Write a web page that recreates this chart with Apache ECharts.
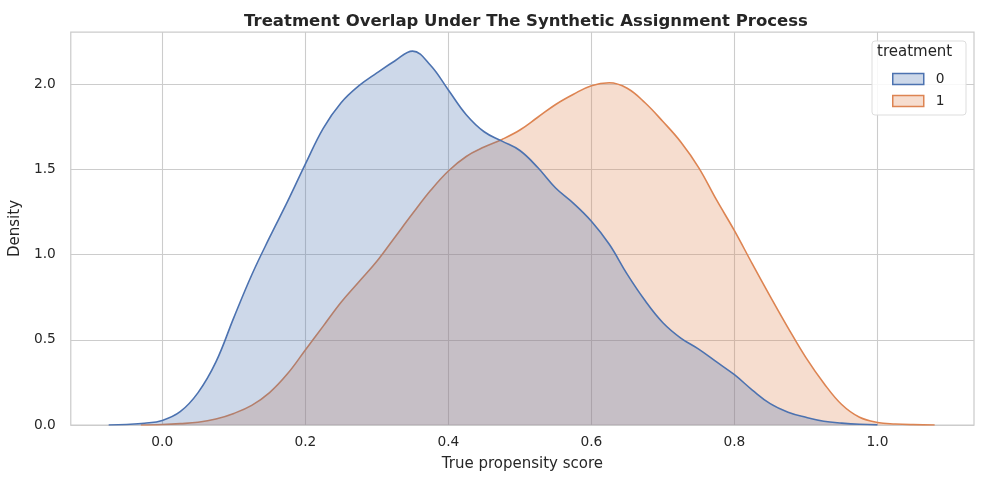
<!DOCTYPE html>
<html>
<head>
<meta charset="utf-8">
<script src="https://cdn.jsdelivr.net/npm/echarts@6/dist/echarts.min.js"></script>
<style>
  html, body { margin: 0; padding: 0; background: #fff; }
  #chart { width: 984px; height: 484px; }
</style>
</head>
<body>
<div id="chart"></div>
<script>
// KDE curves (x = true propensity score, y = density)
const score0 = [-0.075, -0.05, -0.025, 0.0, 0.025, 0.05, 0.075, 0.1, 0.125, 0.15, 0.175, 0.2, 0.225, 0.25, 0.275, 0.3, 0.325, 0.35, 0.375, 0.4, 0.425, 0.45, 0.475, 0.5, 0.525, 0.55, 0.575, 0.6, 0.625, 0.65, 0.675, 0.7, 0.725, 0.75, 0.775, 0.8, 0.825, 0.85, 0.875, 0.9, 0.925, 0.95, 0.975, 1.0];
const density0 = [0, 0.003, 0.01, 0.027, 0.078, 0.19, 0.37, 0.63, 0.88, 1.1, 1.31, 1.53, 1.74, 1.89, 1.99, 2.065, 2.135, 2.193, 2.11, 1.965, 1.82, 1.72, 1.665, 1.61, 1.51, 1.39, 1.3, 1.195, 1.06, 0.885, 0.73, 0.6, 0.51, 0.445, 0.37, 0.295, 0.205, 0.125, 0.075, 0.045, 0.022, 0.011, 0.004, 0.001];

const score1 = [-0.03, 0.0, 0.025, 0.05, 0.075, 0.1, 0.125, 0.15, 0.175, 0.2, 0.225, 0.25, 0.275, 0.3, 0.325, 0.35, 0.375, 0.4, 0.425, 0.45, 0.475, 0.5, 0.525, 0.55, 0.575, 0.6, 0.625, 0.65, 0.675, 0.7, 0.725, 0.75, 0.775, 0.8, 0.825, 0.85, 0.875, 0.9, 0.925, 0.95, 0.975, 1.0, 1.025, 1.05, 1.08];
const density1 = [0, 0.003, 0.008, 0.016, 0.035, 0.068, 0.115, 0.19, 0.3, 0.44, 0.58, 0.72, 0.84, 0.96, 1.1, 1.24, 1.375, 1.49, 1.575, 1.63, 1.675, 1.73, 1.805, 1.88, 1.94, 1.99, 2.007, 1.975, 1.89, 1.78, 1.66, 1.51, 1.32, 1.14, 0.945, 0.755, 0.57, 0.395, 0.245, 0.12, 0.045, 0.015, 0.006, 0.002, 0];

const xTicks = [0.0, 0.2, 0.4, 0.6, 0.8, 1.0];
const yTicks = [0.0, 0.5, 1.0, 1.5, 2.0];

const font = 'DejaVu Sans';
const ink = '#262626';
const gridColor = '#cccccc';
const blue = '#4c72b0';
const orange = '#dd8452';
const fillAlpha = 0.28;

function pairs(xs, ys) {
  return xs.map((x, i) => [x, ys[i]]);
}

const chart = echarts.init(document.getElementById('chart'));
chart.setOption({
  animation: false,
  backgroundColor: '#ffffff',
  textStyle: { fontFamily: font, color: ink },
  title: {
    text: 'Treatment Overlap Under The Synthetic Assignment Process',
    left: 521, top: 8, textAlign: 'center',
    textStyle: { fontFamily: font, fontSize: 16.5, fontWeight: 'bold', color: ink }
  },
  grid: {
    left: 68, right: 10, top: 32, bottom: 59,
    show: true, borderColor: gridColor, borderWidth: 1.25, backgroundColor: 'transparent'
  },
  xAxis: {
    type: 'value', min: -0.128, max: 1.135,
    name: 'True propensity score', nameLocation: 'middle', nameGap: 32,
    nameTextStyle: { fontFamily: font, fontSize: 15, color: ink },
    axisLine: { show: false },
    axisTick: { show: false, customValues: xTicks },
    axisLabel: {
      customValues: xTicks, margin: 10,
      fontFamily: font, fontSize: 13.75, color: ink,
      formatter: v => v.toFixed(1)
    },
    splitLine: { show: true, lineStyle: { color: gridColor, width: 1.1 } }
  },
  yAxis: {
    type: 'value', min: 0, max: 2.305,
    name: 'Density', nameLocation: 'middle', nameGap: 41, nameRotate: 90,
    nameTextStyle: { fontFamily: font, fontSize: 15, color: ink },
    axisLine: { show: false },
    axisTick: { show: false, customValues: yTicks },
    axisLabel: {
      customValues: yTicks, margin: 15,
      fontFamily: font, fontSize: 13.75, color: ink,
      formatter: v => v.toFixed(1)
    },
    splitLine: { show: true, lineStyle: { color: gridColor, width: 1.1 } }
  },
  legend: {
    orient: 'vertical', left: 892, top: 72, z: 6,
    itemWidth: 31, itemHeight: 11, itemGap: 8, padding: 0,
    icon: 'rect',
    textStyle: { fontFamily: font, fontSize: 13.75, color: ink, padding: [0, 0, 0, 7] },
    data: [
      { name: '0', itemStyle: { color: 'rgba(76,114,176,0.28)', borderColor: blue, borderWidth: 1.5 } },
      { name: '1', itemStyle: { color: 'rgba(221,132,82,0.28)', borderColor: orange, borderWidth: 1.5 } }
    ]
  },
  graphic: [
    {
      type: 'rect', z: 5,
      shape: { x: 872, y: 41, width: 94, height: 74, r: 3 },
      style: { fill: 'rgba(255,255,255,0.85)', stroke: '#dddddd', lineWidth: 1 }
    },
    {
      type: 'text', z: 6, left: 877, top: 45,
      style: { text: 'treatment', font: '15px "DejaVu Sans"', fill: ink }
    }
  ],
  series: [
    {
      name: '1', type: 'line', z: 2,
      data: pairs(score1, density1),
      smooth: 0.4, showSymbol: false, symbol: 'none',
      lineStyle: { color: orange, width: 1.6 },
      itemStyle: { color: orange },
      areaStyle: { color: orange, opacity: fillAlpha, origin: 'start' }
    },
    {
      name: '0', type: 'line', z: 3,
      data: pairs(score0, density0),
      smooth: 0.4, showSymbol: false, symbol: 'none',
      lineStyle: { color: blue, width: 1.6 },
      itemStyle: { color: blue },
      areaStyle: { color: blue, opacity: fillAlpha, origin: 'start' }
    }
  ]
});
</script>
</body>
</html>
